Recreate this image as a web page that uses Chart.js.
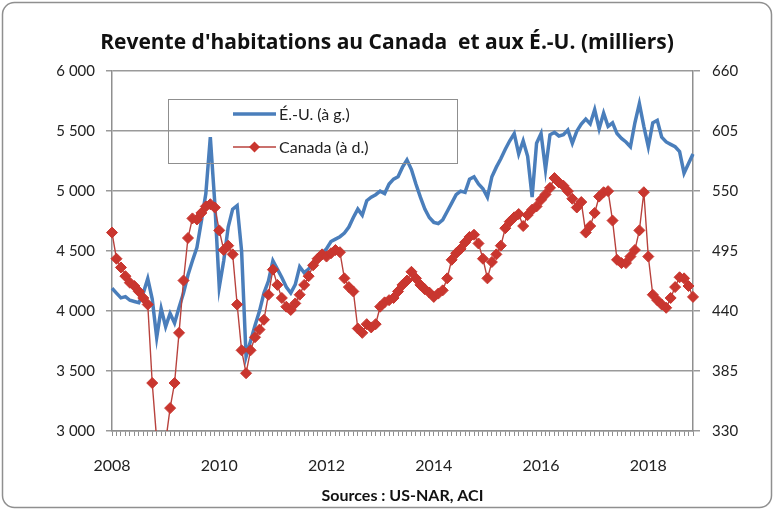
<!DOCTYPE html>
<html>
<head>
<meta charset="utf-8">
<title>Revente d'habitations</title>
<script src="https://cdn.jsdelivr.net/npm/chart.js@4/dist/chart.umd.min.js"></script>
<style>
  html, body { margin: 0; padding: 0; background: #fff; }
  #wrap { width: 774px; height: 510px; }
</style>
</head>
<body>
<div id="wrap"><canvas id="resales" width="774" height="510"></canvas></div>
<script>
// Monthly categories, Jan 2008 - Nov 2018
const years = [2008, 2009, 2010, 2011, 2012, 2013, 2014, 2015, 2016, 2017, 2018];
const months = [];
years.forEach(y => {
  for (let m = 1; m <= 12; m++) {
    if (y === 2018 && m > 11) break;
    months.push(y + '-' + String(m).padStart(2, '0'));
  }
});

// US resales, thousands (left axis)
const usSales = [
  4190, 4150, 4110, 4120, 4090, 4080, 4070, 4150, 4270, 4100, 3780, 4020,
  3870, 3980, 3900, 4030, 4150, 4300, 4420, 4530, 4750, 4980, 5450, 4900,
  4200, 4420, 4700, 4850, 4880, 4500, 3620, 3750, 3880, 4000, 4150, 4250,
  4420, 4350, 4280, 4200, 4150, 4220, 4370, 4320, 4350, 4400, 4430, 4480,
  4520, 4580, 4600, 4620, 4650, 4700, 4780, 4850, 4800, 4920, 4950, 4970,
  5000, 4980, 5060, 5100, 5120, 5200, 5260, 5180, 5060, 4950, 4850, 4780,
  4740, 4730, 4760, 4830, 4900, 4970, 5000, 4990, 5100, 5120, 5060, 5020,
  4950, 5120, 5200, 5270, 5350, 5420, 5480, 5310, 5420, 5290, 4950, 5400,
  5480, 5180, 5470, 5490, 5460, 5470, 5510, 5400, 5500, 5560, 5600, 5560,
  5680, 5520, 5650, 5540, 5570, 5480, 5440, 5410, 5370, 5570, 5730, 5540,
  5370, 5570, 5590, 5450, 5410, 5390, 5370, 5330, 5150, 5230, 5310
];

// Canada resales, thousands (right axis)
const canadaSales = [
  512, 488, 480, 472, 466, 463, 458, 452, 446, 374, 322, 300,
  320, 351, 374, 420, 468, 507, 525, 524, 530, 536, 538, 535,
  514, 496, 500, 492, 446, 404, 383, 404, 416, 423, 432, 455,
  478, 464, 452, 444, 441, 447, 455, 464, 472, 482, 488, 492,
  490, 493, 496, 494, 470, 462, 458, 424, 420, 428, 425, 428,
  444, 448, 450, 452, 458, 464, 468, 476, 470, 464, 460, 457,
  453, 456, 459, 470, 487, 493, 497, 503, 508, 510, 502, 488,
  470, 485, 492, 500, 516, 522, 526, 529, 518, 528, 533, 536,
  542, 547, 553, 562, 558, 555, 550, 543, 535, 540, 512, 518,
  530, 545, 549, 550, 523, 487, 484, 484, 490, 496, 514, 549,
  490, 455, 450, 446, 443, 452, 462, 471, 470, 463, 453
];

const leftTicks = [3000, 3500, 4000, 4500, 5000, 5500, 6000];
const rightTicks = [330, 385, 440, 495, 550, 605, 660];

const gray = '#8f8f8f';
const blue = '#4A7EBB';
const red = '#C9362F';

function spaced(v) {
  if (v < 1000) return String(v);
  return Math.floor(v / 1000) + ' ' + String(v % 1000).padStart(3, '0');
}

// white background and rounded outer frame
const frame = {
  id: 'frame',
  beforeDraw(chart) {
    const { ctx, width, height } = chart;
    ctx.save();
    ctx.fillStyle = '#fff';
    ctx.fillRect(0, 0, width, height);
    ctx.strokeStyle = gray;
    ctx.lineWidth = 1.5;
    ctx.beginPath();
    ctx.roundRect(2.5, 2.5, width - 5, height - 5, 12);
    ctx.stroke();
    ctx.restore();
  }
};

// legend box sitting inside the plot area
const legendBox = {
  id: 'legendBox',
  afterDraw(chart) {
    const { ctx } = chart;
    const ds = chart.data.datasets;
    ctx.save();
    ctx.strokeStyle = gray;
    ctx.lineWidth = 1;
    ctx.strokeRect(168.5, 99.5, 289, 64);
    ctx.font = '16px Lato';
    ctx.textBaseline = 'middle';
    const rows = [114, 147];
    ds.forEach((d, i) => {
      const y = rows[i];
      ctx.strokeStyle = d.borderColor;
      ctx.lineWidth = d.borderWidth;
      ctx.beginPath();
      ctx.moveTo(233, y);
      ctx.lineTo(276, y);
      ctx.stroke();
      if (d.pointRadius) {
        const r = d.pointRadius;
        ctx.fillStyle = d.pointBackgroundColor;
        ctx.beginPath();
        ctx.moveTo(254.5, y - r);
        ctx.lineTo(254.5 + r, y);
        ctx.lineTo(254.5, y + r);
        ctx.lineTo(254.5 - r, y);
        ctx.closePath();
        ctx.fill();
      }
      ctx.fillStyle = '#222';
      ctx.fillText(d.label, 279, y + 1);
    });
    ctx.restore();
  }
};

Chart.defaults.font.family = 'Lato';

new Chart(document.getElementById('resales').getContext('2d'), {
  type: 'line',
  data: {
    labels: months,
    datasets: [{
      label: 'É.-U. (à g.)',
      data: usSales,
      yAxisID: 'y',
      borderColor: blue,
      borderWidth: 3.5,
      pointRadius: 0,
      tension: 0,
      order: 2
    }, {
      label: 'Canada (à d.)',
      data: canadaSales,
      yAxisID: 'y1',
      borderColor: '#B8423D',
      borderWidth: 1.4,
      pointStyle: 'rectRot',
      pointRadius: 5.5,
      pointBackgroundColor: red,
      pointBorderColor: red,
      pointBorderWidth: 1,
      tension: 0,
      order: 1
    }]
  },
  options: {
    responsive: false,
    animation: false,
    devicePixelRatio: 1,
    layout: { padding: 0 },
    plugins: {
      legend: { display: false },
      tooltip: { enabled: false },
      title: {
        display: true,
        text: "Revente d'habitations au Canada  et aux É.-U. (milliers)",
        color: '#111',
        font: { family: 'Open Sans', size: 21, weight: 'bold' },
        padding: { top: 30, bottom: 16 }
      }
    },
    scales: {
      x: {
        offset: false,
        grid: { drawOnChartArea: false, drawTicks: true, tickLength: 5, color: gray },
        border: { display: true, color: gray, width: 1.5 },
        ticks: {
          autoSkip: false, minRotation: 0, maxRotation: 0, padding: 20,
          color: '#222', font: { size: 16 },
          callback: (v, i) => (i % 24 === 0 ? months[i].slice(0, 4) : '')
        },
        title: {
          display: true,
          text: 'Sources : US-NAR, ACI',
          color: '#111',
          font: { size: 16, weight: 'bold' },
          padding: { top: 4, bottom: 5 }
        },
        afterFit: s => { s.height = 79; }
      },
      y: {
        position: 'left',
        min: leftTicks[0],
        max: leftTicks[leftTicks.length - 1],
        grid: { color: '#9a9a9a', lineWidth: 1.5, tickLength: 6 },
        border: { display: true, color: gray, width: 1.5 },
        ticks: {
          stepSize: leftTicks[1] - leftTicks[0], padding: 11,
          color: '#222', font: { size: 15 }, callback: spaced
        },
        afterFit: s => { s.width = 112; }
      },
      y1: {
        position: 'right',
        min: rightTicks[0],
        max: rightTicks[rightTicks.length - 1],
        grid: { drawOnChartArea: false, color: '#9a9a9a', lineWidth: 1.5, tickLength: 7 },
        border: { display: true, color: gray, width: 1.5 },
        ticks: {
          stepSize: rightTicks[1] - rightTicks[0], padding: 12,
          color: '#222', font: { size: 15 }, callback: spaced
        },
        afterFit: s => { s.width = 81; }
      }
    }
  },
  plugins: [frame, legendBox]
});
</script>
</body>
</html>
